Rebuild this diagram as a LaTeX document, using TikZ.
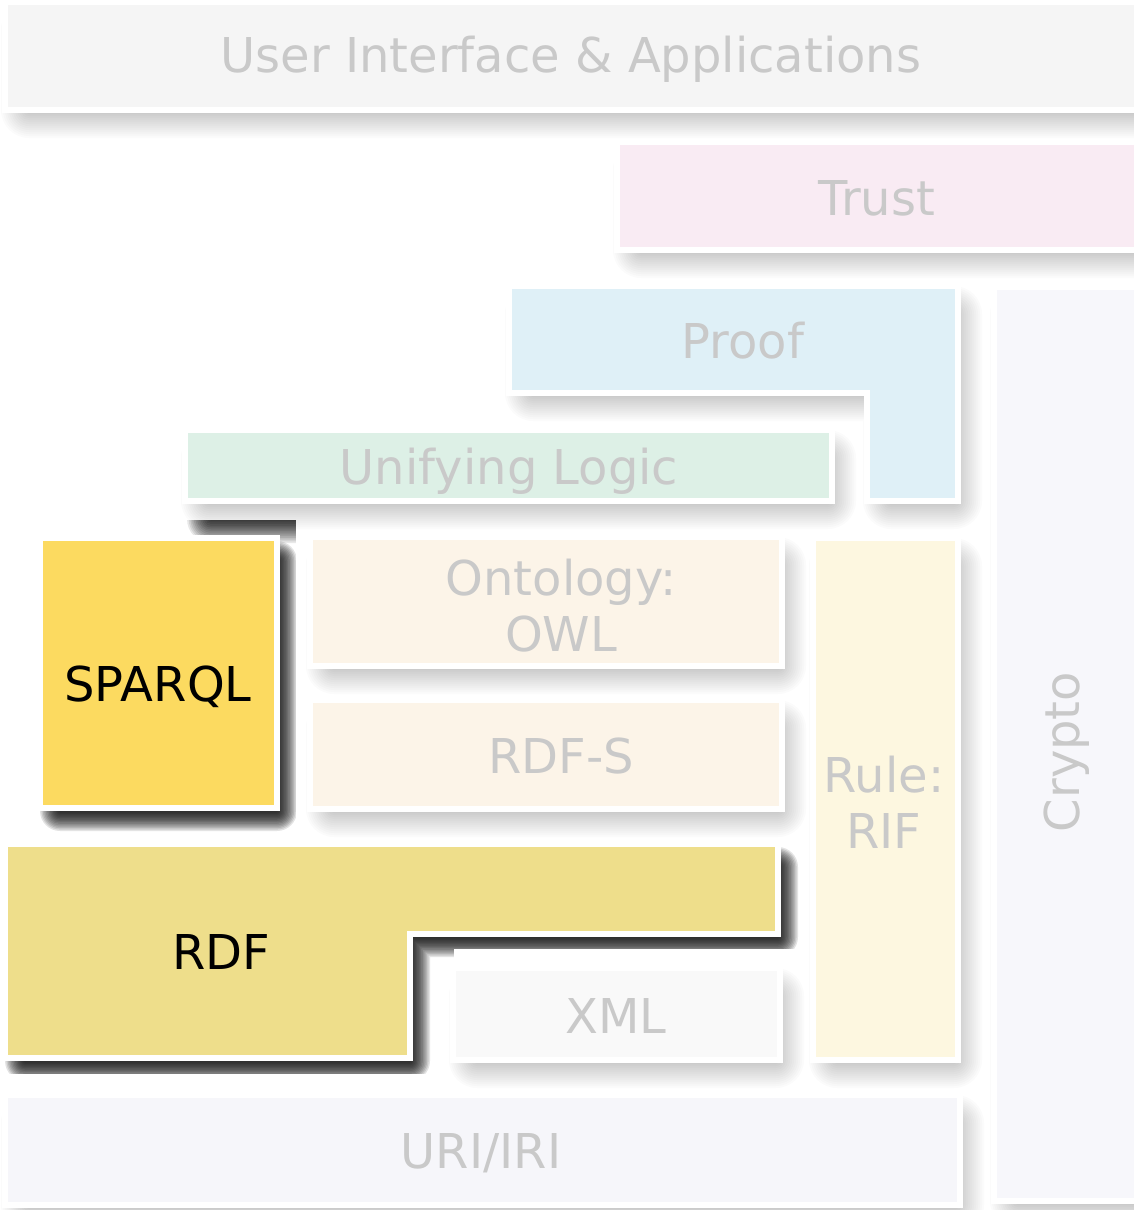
\documentclass[tikz,border=0pt]{standalone}
\usepackage{fontspec}
\setmainfont{DejaVu Sans}
\definecolor{fadetext}{HTML}{C9C9C9}
\definecolor{uicol}{HTML}{F5F5F5}
\definecolor{trustcol}{HTML}{F9EBF3}
\definecolor{proofcol}{HTML}{DFF0F7}
\definecolor{logiccol}{HTML}{DDF0E6}
\definecolor{cryptocol}{HTML}{F7F7FB}
\definecolor{sparqlcol}{HTML}{FCDA60}
\definecolor{owlcol}{HTML}{FCF4E8}
\definecolor{rulecol}{HTML}{FDF7E0}
\definecolor{rdfcol}{HTML}{EEDE8B}
\definecolor{xmlcol}{HTML}{F9F9F9}
\definecolor{uricol}{HTML}{F6F6FA}
\tikzset{
  lbl/.style={text=fadetext, font=\fontsize{48}{56}\selectfont, inner sep=0pt, align=center},
  hlbl/.style={lbl, text=black},
  layerbox/.style={fill=#1, draw=white, line width=6pt, line join=miter},
}
% blurred shadow: shape shrunk by \shr, then grown in 14 steps up to 2\shr
% #1 path (uses \shr), #2 opacity per layer, #3 dx, #4 dy
\newcommand\softshadow[4]{%
  \foreach \k in {1,...,14}{%
    \begin{scope}[transparency group, opacity=#2, shift={(#3,#4)}]
      \path (-40,-40) rectangle (1180,1250);
      \filldraw[black, line width={\k*\shr*2/7}, line join=round] #1;
    \end{scope}}}
\newcommand\shrect[4]{({#1+\shr},{#2+\shr}) rectangle ({#3-\shr},{#4-\shr})}
% box outlines
\def\pUI{(5,2) rectangle (1140,110)}
\def\pTR{(617,142) rectangle (1140,250)}
\def\pPR{(509,286) -- (958,286) -- (958,501) -- (867,501) -- (867,393) -- (509,393) -- cycle}
\def\pUL{(185,430) rectangle (832,501)}
\def\pCR{(994,287) rectangle (1140,1201)}
\def\pSP{(40,538) rectangle (277,808)}
\def\pOW{(310,537) rectangle (782,666)}
\def\pRS{(310,700) rectangle (782,809)}
\def\pRU{(813,538) rectangle (958,1060)}
\def\pRDF{(5,844) -- (778,844) -- (778,934) -- (410,934) -- (410,1058) -- (5,1058) -- cycle}
\def\pXML{(453,968) rectangle (780,1060)}
\def\pURI{(5,1095) rectangle (960,1205)}
% shrunk outlines for shadows
\def\sPR{({509+\shr},{286+\shr}) -- ({958-\shr},{286+\shr}) -- ({958-\shr},{501-\shr}) -- ({867+\shr},{501-\shr}) -- ({867+\shr},{393-\shr}) -- ({509+\shr},{393-\shr}) -- cycle}
\def\sRDF{({5+\shr},{844+\shr}) -- ({778-\shr},{844+\shr}) -- ({778-\shr},{934-\shr}) -- ({410-\shr},{934-\shr}) -- ({410-\shr},{1058-\shr}) -- ({5+\shr},{1058-\shr}) -- cycle}
\begin{document}
\begin{tikzpicture}[x=1pt,y=-1pt]
\fill[white] (0,0) rectangle (1134,1210);
% light shadows
\def\shr{14}
\softshadow{\shrect{5}{2}{1140}{110}}{0.014}{10}{14}
\softshadow{\shrect{617}{142}{1140}{250}}{0.014}{10}{14}
\softshadow{\sPR}{0.014}{10}{14}
\softshadow{\shrect{185}{430}{832}{501}}{0.014}{10}{14}
\softshadow{\shrect{994}{287}{1140}{1201}}{0.014}{10}{14}
\softshadow{\shrect{310}{537}{782}{666}}{0.014}{10}{14}
\softshadow{\shrect{310}{700}{782}{809}}{0.014}{10}{14}
\softshadow{\shrect{813}{538}{958}{1060}}{0.014}{10}{14}
\softshadow{\shrect{453}{968}{780}{1060}}{0.014}{10}{14}
\softshadow{\shrect{5}{1095}{960}{1205}}{0.014}{10}{14}
% dark shadows in the highlighted region
\begin{scope}
  \clip (0,520) -- (295,520) -- (295,822) -- (805,822) -- (805,948) -- (453,948) -- (453,1073) -- (0,1073) -- cycle;
  \def\shr{12}
  \softshadow{\shrect{185}{430}{832}{501}}{0.09}{14}{30}
  \def\shr{10}
  \softshadow{\shrect{40}{538}{277}{808}}{0.11}{10}{13}
  \softshadow{\sRDF}{0.11}{10}{13}
\end{scope}
% layers
\path[layerbox=uicol] \pUI;
\path[layerbox=trustcol] \pTR;
\path[layerbox=proofcol] \pPR;
\path[layerbox=logiccol] \pUL;
\path[layerbox=cryptocol] \pCR;
\path[layerbox=sparqlcol] \pSP;
\path[layerbox=owlcol] \pOW;
\path[layerbox=owlcol] \pRS;
\path[layerbox=rulecol] \pRU;
\path[layerbox=rdfcol] \pRDF;
\path[layerbox=xmlcol] \pXML;
\path[layerbox=uricol] \pURI;
% labels
\node[lbl, anchor=base] (ui) at (571,72) {User Interface \& Applications};
\node[lbl, anchor=base] (trust) at (877,215) {Trust};
\node[lbl, anchor=base] (proof) at (743,358) {Proof};
\node[lbl, anchor=base] (logic) at (509,484) {Unifying Logic};
\node[lbl, rotate=90] (crypto) at (1067,752) {Crypto};
\node[hlbl, anchor=base] (sparql) at (158,701) {SPARQL};
\node[lbl] (owl) at (561,606) {Ontology:\\OWL};
\node[lbl, anchor=base] (rdfs) at (561,773) {RDF-S};
\node[lbl] (rule) at (884,802) {Rule:\\RIF};
\node[hlbl, anchor=base] (rdf) at (221,969) {RDF};
\node[lbl, anchor=base] (xml) at (616,1033) {XML};
\node[lbl, anchor=base] (uri) at (481,1168) {URI/IRI};
\pgfresetboundingbox
\useasboundingbox (0,0) rectangle (1134,1210);
\end{tikzpicture}
\end{document}
